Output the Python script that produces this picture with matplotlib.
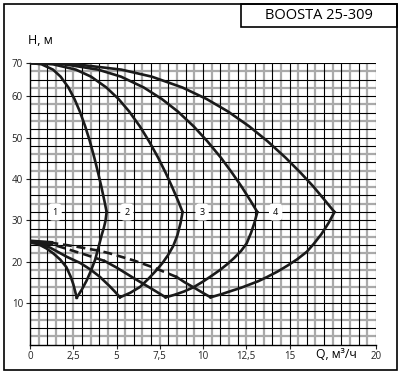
import numpy as np
import matplotlib
matplotlib.use("Agg")
import matplotlib.pyplot as plt

plt.rcParams['font.family'] = ['Open Sans', 'DejaVu Sans']

# --- data (Q in m3/h, H in m) ---
# upper branch of each curve: from zero flow to the corner at H=32
top_h = [68, 67.7, 66.4, 64.7, 62.1, 59.3, 56.3, 52.7, 49.1, 45.1, 41.4, 38.2, 34.7, 32]
top_q = [
    [0, 0.66, 1.33, 1.77, 2.22, 2.57, 2.88, 3.19, 3.46, 3.72, 3.94, 4.12, 4.30, 4.43],
    [0, 1.32, 2.65, 3.53, 4.41, 5.12, 5.73, 6.35, 6.88, 7.41, 7.85, 8.20, 8.56, 8.82],
    [0, 1.97, 3.94, 5.26, 6.57, 7.62, 8.54, 9.46, 10.25, 11.04, 11.69, 12.22, 12.75, 13.14],
    [0, 2.64, 5.28, 7.04, 8.80, 10.21, 11.44, 12.67, 13.73, 14.78, 15.66, 16.37, 17.07, 17.6],
]
# right branch: corner down to the minimum
right_q = [
    [4.43, 4.36, 4.27, 4.14, 3.98, 3.76, 3.52, 3.28, 3.0, 2.7],
    [8.82, 8.7, 8.52, 8.28, 7.98, 7.66, 7.32, 6.85, 6.36, 5.8, 5.2],
    [13.14, 12.98, 12.78, 12.52, 12.2, 11.8, 11.4, 10.98, 10.5, 10.0, 9.44, 8.9, 8.35, 7.84],
    [17.6, 17.25, 16.85, 16.4, 16.0, 15.45, 14.9, 14.3, 13.7, 13.2, 12.7, 12.2, 11.75, 11.1, 10.44],
]
right_h = [
    [32, 29.8, 28.2, 26.4, 23.8, 20.4, 17.8, 15.5, 13.3, 11.3],
    [32, 29.3, 26.4, 23.8, 21.6, 19.7, 18, 15.9, 13.9, 12.5, 11.4],
    [32, 29.5, 27, 24.4, 22.6, 20.9, 19.4, 18, 16.6, 15.2, 13.8, 12.8, 12.0, 11.4],
    [32, 29.3, 26.7, 24.3, 22.4, 20.6, 19.1, 17.6, 16.3, 15.3, 14.5, 13.7, 13.1, 12.2, 11.4],
]
# left branch (solid part): minimum back towards zero flow
left_q = [
    [2.7, 2.6, 2.5, 2.35, 2.1, 1.75, 1.35, 0.95, 0.5, 0],
    [5.2, 4.9, 4.6, 4.05, 3.5, 2.9, 2.12, 1.6, 1.16, 0.6],
    [7.84, 6.9, 5.97, 5.0, 4.3],
    [10.44, 9.9, 9.5, 8.95, 8.48],
]
left_h = [
    [11.3, 13, 14.6, 16.4, 18.7, 20.5, 22.0, 23.2, 24.2, 24.8],
    [11.4, 12.8, 14.1, 16.3, 18.1, 19.7, 21.2, 22.4, 23.4, 24.3],
    [11.4, 13.8, 16.1, 18.6, 20.2],
    [11.4, 12.7, 13.7, 15.0, 16.3],
]
# dashed parts of the left branch (curves 3 and 4)
dash_q = [[4.3, 3.2, 2.2, 1.2], [8.48, 7.2, 6.0, 4.62, 4.05, 2.6, 1.2]]
dash_h = [[20.2, 21.7, 23.0, 24.3], [16.3, 18.5, 20.3, 22.0, 22.6, 23.7, 24.6]]
# common start at zero flow
stem_q = [0, 1.2]
stem_h = [24.8, 24.45]

label_text = ['1', '2', '3', '4']
label_q = [1.45, 5.6, 9.95, 14.2]
label_h = [32, 32, 32, 32]

x_ticks = [0, 2.5, 5, 7.5, 10, 12.5, 15, 20]
x_labels = ['0', '2,5', '5', '7,5', '10', '12,5', '15', '20']
y_ticks = [10, 20, 30, 40, 50, 60, 68]
y_labels = ['10', '20', '30', '40', '50', '60', '70']

fig = plt.figure(figsize=(4.04, 3.78), dpi=100)
ax = fig.add_axes([30 / 404, 1 - 344.5 / 378, 346 / 404, 281.5 / 378])
ax.set_xlim(0, 20)
ax.set_ylim(0, 68)

# grid: thin black lines with thicker grey ones in between
for q in np.arange(0.5, 20.0, 0.5):
    if q % 1 == 0:
        ax.axvline(q, color='black', lw=0.8, zorder=1)
    else:
        ax.axvline(q, color='#aaaaaa', lw=1.6, zorder=0.5)
for h in np.arange(2, 68.5, 2):
    if h % 4 == 0 or h % 10 == 0 or h == 68:
        ax.axhline(h, color='black', lw=0.8, zorder=1)
    else:
        ax.axhline(h, color='#aaaaaa', lw=1.6, zorder=0.5)
ax.axvline(20, color='black', lw=0.8, zorder=1)

col = '#1a1a1a'
lw = 1.9
for i in range(4):
    ax.plot(top_q[i], top_h, color=col, lw=lw, zorder=3)
    ax.plot(right_q[i], right_h[i], color=col, lw=lw, zorder=3)
    ax.plot(left_q[i], left_h[i], color=col, lw=lw, zorder=3)
for q, h in zip(dash_q, dash_h):
    ax.plot(q, h, color=col, lw=lw, dashes=(3.4, 1.8), zorder=3)
ax.plot(stem_q, stem_h, color=col, lw=3.5, zorder=3)

for t, q, h in zip(label_text, label_q, label_h):
    ax.text(q, h, t, fontsize=6.5, ha='center', va='center', zorder=4,
            bbox=dict(boxstyle='round,pad=0.45', fc='white', ec='none'))

for s in ['top', 'right']:
    ax.spines[s].set_visible(False)
ax.spines['left'].set_linewidth(1.0)
ax.spines['bottom'].set_linewidth(1.0)
ax.set_xticks(x_ticks)
ax.set_xticklabels(x_labels)
ax.set_yticks(y_ticks)
ax.set_yticklabels(y_labels)
ax.tick_params(length=3, width=0.8, labelsize=7, pad=2, colors='#222222')

fig.text(40 / 404, 1 - 40 / 378, 'H, м', fontsize=9, ha='center', va='center')
fig.text(336 / 404, 1 - 355 / 378, 'Q, м³/ч', fontsize=8.8, ha='center', va='center')

# frame and title box
fig.add_artist(plt.Rectangle((4 / 404, 1 - 370 / 378), 393 / 404, 366 / 378,
                             fill=False, ec='black', lw=1.2, transform=fig.transFigure))
fig.add_artist(plt.Rectangle((241 / 404, 1 - 27 / 378), 156 / 404, 23 / 378,
                             fill=False, ec='black', lw=1.2, transform=fig.transFigure))
fig.text(319 / 404, 1 - 15.5 / 378, 'BOOSTA 25-309', fontsize=10.5, ha='center', va='center')

fig.savefig('out.png', dpi=100)
